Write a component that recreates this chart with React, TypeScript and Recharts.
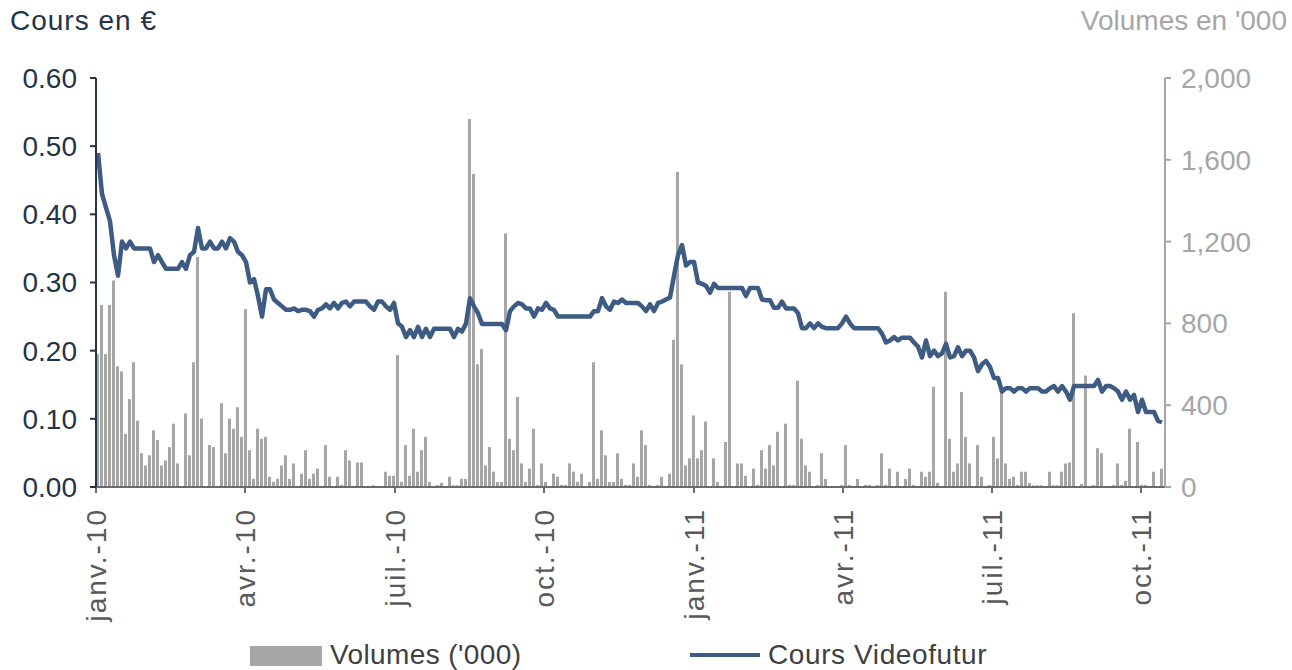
import { Bar, ComposedChart, Line, XAxis, YAxis } from "recharts"

// one slot ~ 1.7 trading days, janv. 2010 -> mi-oct. 2011
const PRICES = [
  0.49, 0.43, 0.41, 0.39, 0.34, 0.31, 0.36, 0.35, 0.36, 0.35,
  0.35, 0.35, 0.35, 0.35, 0.33, 0.34, 0.33, 0.32, 0.32, 0.32,
  0.32, 0.33, 0.32, 0.34, 0.345, 0.38, 0.35, 0.35, 0.36, 0.35,
  0.35, 0.36, 0.35, 0.365, 0.36, 0.345, 0.34, 0.33, 0.3, 0.305,
  0.28, 0.25, 0.29, 0.29, 0.275, 0.27, 0.265, 0.26, 0.26, 0.262,
  0.258, 0.26, 0.26, 0.258, 0.25, 0.26, 0.262, 0.268, 0.262, 0.27,
  0.262, 0.27, 0.272, 0.265, 0.272, 0.272, 0.272, 0.272, 0.265, 0.26,
  0.272, 0.272, 0.265, 0.26, 0.27, 0.24, 0.235, 0.22, 0.23, 0.22,
  0.235, 0.22, 0.232, 0.22, 0.232, 0.232, 0.232, 0.232, 0.232, 0.22,
  0.232, 0.228, 0.24, 0.277, 0.265, 0.255, 0.239, 0.239, 0.239, 0.239,
  0.239, 0.239, 0.23, 0.258, 0.265, 0.27, 0.268, 0.262, 0.262, 0.25,
  0.262, 0.26, 0.27, 0.262, 0.26, 0.25, 0.25, 0.25, 0.25, 0.25,
  0.25, 0.25, 0.25, 0.25, 0.258, 0.258, 0.277, 0.265, 0.26, 0.272,
  0.27, 0.275, 0.27, 0.27, 0.27, 0.27, 0.265, 0.258, 0.268, 0.258,
  0.27, 0.272, 0.275, 0.278, 0.31, 0.34, 0.355, 0.325, 0.33, 0.33,
  0.3, 0.298, 0.295, 0.285, 0.298, 0.292, 0.292, 0.292, 0.292, 0.292,
  0.292, 0.292, 0.28, 0.292, 0.292, 0.292, 0.275, 0.274, 0.274, 0.263,
  0.263, 0.272, 0.262, 0.262, 0.262, 0.255, 0.233, 0.233, 0.24, 0.233,
  0.24, 0.235, 0.233, 0.233, 0.233, 0.233, 0.24, 0.25, 0.24, 0.233,
  0.233, 0.233, 0.233, 0.233, 0.233, 0.233, 0.225, 0.212, 0.215, 0.22,
  0.215, 0.219, 0.219, 0.219, 0.212, 0.206, 0.19, 0.215, 0.192, 0.2,
  0.192, 0.196, 0.21, 0.19, 0.192, 0.205, 0.192, 0.2, 0.2, 0.19,
  0.17, 0.18, 0.185, 0.176, 0.16, 0.16, 0.14, 0.145, 0.145, 0.14,
  0.145, 0.145, 0.14, 0.145, 0.145, 0.145, 0.14, 0.14, 0.145, 0.148,
  0.14, 0.148, 0.14, 0.128, 0.148, 0.148, 0.148, 0.148, 0.148, 0.148,
  0.157, 0.14, 0.148, 0.148, 0.145, 0.14, 0.128, 0.14, 0.128, 0.135,
  0.11, 0.128, 0.11, 0.11, 0.11, 0.097, 0.095,
]

const VOLUMES = [
  650, 890, 650, 890, 1010, 590, 565, 260, 430, 610,
  325, 165, 105, 155, 277, 230, 105, 130, 195, 310,
  115, 0, 360, 155, 610, 1125, 335, 0, 205, 195,
  0, 410, 165, 335, 285, 390, 245, 870, 180, 40,
  285, 236, 245, 50, 25, 40, 105, 155, 40, 115,
  0, 65, 180, 40, 65, 90, 0, 205, 50, 0,
  50, 10, 180, 130, 0, 120, 120, 0, 0, 8,
  0, 0, 75, 55, 55, 645, 25, 205, 55, 285,
  75, 180, 245, 25, 0, 10, 20, 0, 50, 8,
  8, 40, 40, 1800, 1530, 600, 675, 105, 195, 75,
  25, 25, 1240, 236, 180, 440, 115, 25, 90, 285,
  10, 115, 25, 0, 65, 50, 10, 10, 115, 75,
  25, 65, 0, 25, 610, 40, 277, 155, 25, 25,
  165, 40, 10, 10, 115, 50, 277, 205, 10, 0,
  10, 50, 0, 65, 720, 1540, 600, 105, 140, 350,
  140, 180, 320, 0, 140, 25, 0, 220, 955, 0,
  115, 115, 55, 0, 90, 10, 180, 90, 205, 105,
  270, 0, 310, 10, 10, 520, 236, 105, 75, 0,
  10, 165, 40, 0, 0, 0, 10, 205, 10, 0,
  40, 0, 10, 10, 0, 10, 165, 10, 90, 0,
  75, 0, 40, 90, 10, 0, 75, 50, 75, 490,
  20, 0, 955, 236, 75, 115, 465, 245, 115, 0,
  205, 50, 0, 10, 245, 140, 465, 115, 40, 50,
  10, 75, 75, 20, 8, 8, 8, 0, 75, 8,
  8, 75, 115, 120, 850, 0, 15, 545, 0, 10,
  190, 165, 0, 0, 10, 115, 10, 30, 285, 0,
  220, 10, 10, 0, 75, 0, 90,
]

const QUARTER_LABELS = ["janv.-10", "avr.-10", "juil.-10", "oct.-10", "janv.-11", "avr.-11", "juil.-11", "oct.-11"]
// slot position of the first day of each quarter
const QUARTER_SLOTS = [0, 37.25, 74.75, 112, 149.5, 186.75, 224, 261.25]

const PRICE_TICKS = [0, 0.1, 0.2, 0.3, 0.4, 0.5, 0.6]
const VOLUME_TICKS = [0, 400, 800, 1200, 1600, 2000]

const FONT = "'Liberation Sans', Arial, sans-serif"
const NAVY = "#3e5b84"
const BAR_GREY = "#a6a6a6"
const DARK = "#243447"
const TEXT_GREY = "#595959"

const data = PRICES.map((price, i) => ({ slot: i + 0.5, price, volume: VOLUMES[i] }))

function QuarterTick({ x, y, payload }: { x: number; y: number; payload: { value: number } }) {
  const idx = QUARTER_SLOTS.indexOf(payload.value)
  return (
    <g transform={`translate(${x},${y})`}>
      <text
        transform="rotate(-90)"
        x={-13}
        y={0}
        dy="0.35em"
        textAnchor="end"
        fill={TEXT_GREY}
        fontSize={28}
        fontFamily={FONT}
        letterSpacing={2}
      >
        {QUARTER_LABELS[idx]}
      </text>
    </g>
  )
}

export default function App() {
  return (
    <div style={{ position: "absolute", left: 0, top: 0, width: 1292, height: 670, background: "#fff", fontFamily: FONT }}>
      <div style={{ position: "absolute", left: 10, top: 5, fontSize: 28, letterSpacing: 1, color: DARK }}>Cours en €</div>
      <div style={{ position: "absolute", right: 5, top: 5, fontSize: 28, color: BAR_GREY }}>Volumes en '000</div>

      <ComposedChart width={1292} height={670} data={data} margin={{ top: 78, right: 0, bottom: 53, left: 0 }}>
        <XAxis
          type="number"
          dataKey="slot"
          domain={[0, 267.25]}
          ticks={QUARTER_SLOTS}
          interval={0}
          height={130}
          tick={QuarterTick}
          tickSize={6}
          stroke="#6b6b6b"
          strokeWidth={2}
          allowDataOverflow
        />
        <YAxis
          yAxisId="left"
          domain={[0, 0.6]}
          ticks={PRICE_TICKS}
          width={96}
          tickFormatter={(v: number) => v.toFixed(2)}
          tick={{ fill: DARK, fontSize: 28, fontFamily: FONT }}
          tickSize={6}
          tickMargin={13}
          stroke={DARK}
          strokeWidth={2}
        />
        <YAxis
          yAxisId="right"
          orientation="right"
          domain={[0, 2000]}
          ticks={VOLUME_TICKS}
          width={127}
          tickFormatter={(v: number) => v.toLocaleString("en-US")}
          tick={{ fill: BAR_GREY, fontSize: 28, fontFamily: FONT, textAnchor: "start" }}
          tickSize={6}
          tickMargin={10}
          stroke={BAR_GREY}
          strokeWidth={2}
        />
        <Bar yAxisId="right" dataKey="volume" fill={BAR_GREY} barSize={3} isAnimationActive={false} />
        <Line
          yAxisId="left"
          type="linear"
          dataKey="price"
          stroke={NAVY}
          strokeWidth={4.5}
          strokeLinejoin="round"
          dot={false}
          activeDot={false}
          isAnimationActive={false}
        />
      </ComposedChart>

      <div style={{ position: "absolute", left: 250, top: 646, width: 72, height: 20, background: BAR_GREY }} />
      <div style={{ position: "absolute", left: 330, top: 639, fontSize: 28, letterSpacing: 0.4, color: "#404040" }}>Volumes ('000)</div>
      <div style={{ position: "absolute", left: 690, top: 653, width: 70, height: 4, background: NAVY }} />
      <div style={{ position: "absolute", left: 768, top: 639, fontSize: 28, letterSpacing: 0.6, color: "#404040" }}>Cours Videofutur</div>
    </div>
  )
}
